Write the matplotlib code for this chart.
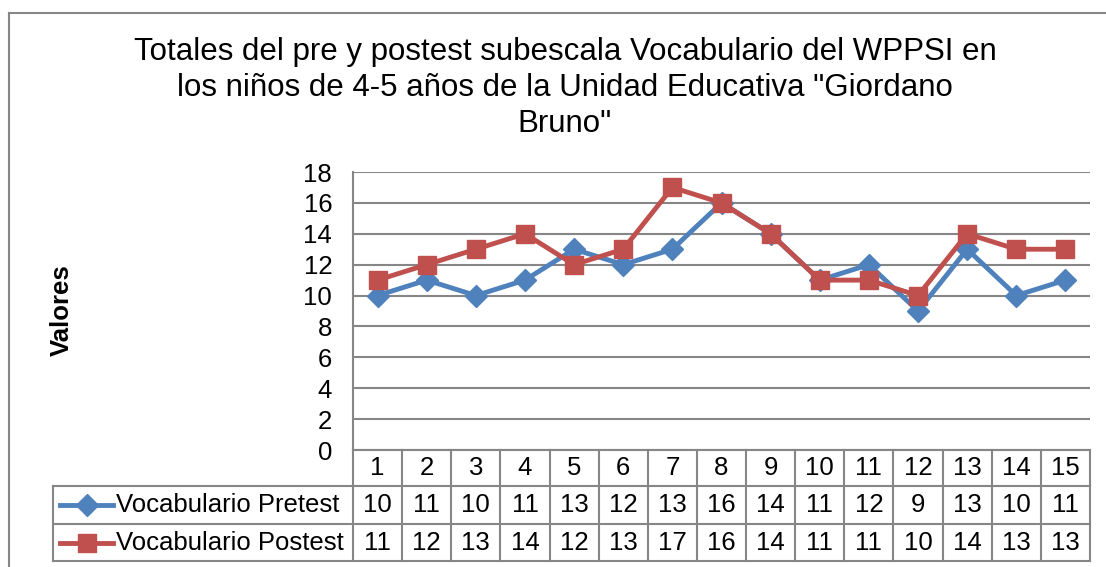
import numpy as np
import matplotlib
matplotlib.use('Agg')
import matplotlib.pyplot as plt
from matplotlib.transforms import blended_transform_factory
from matplotlib.lines import Line2D

plt.rcParams['font.family'] = ['Liberation Sans', 'DejaVu Sans']

categorias = [str(i) for i in range(1, 16)]
pretest = [10, 11, 10, 11, 13, 12, 13, 16, 14, 11, 12, 9, 13, 10, 11]
postest = [11, 12, 13, 14, 12, 13, 17, 16, 14, 11, 11, 10, 14, 13, 13]
series = ['Vocabulario Pretest', 'Vocabulario Postest']
colores = ['#4F81BD', '#C0504D']
marcadores = ['D', 's']
titulo = ('Totales del pre y postest subescala Vocabulario del WPPSI en\n'
          'los niños de 4-5 años de la Unidad Educativa "Giordano\nBruno"')

W, H = 1106, 567
fig = plt.figure(figsize=(W / 100, H / 100), dpi=100)
gris = '#868686'
fs = 18.5

def fy(py):
    return 1 - py / H

def fx(px):
    return px / W

# marco exterior
fig.add_artist(Line2D([fx(9), fx(9)], [fy(13), 0], color=gris, lw=1.5))
fig.add_artist(Line2D([fx(9), 1], [fy(13), fy(13)], color=gris, lw=1.5))

ax = fig.add_axes([fx(353), fy(450), fx(1090) - fx(353), fy(172) - fy(450)])
x = np.arange(len(categorias))
datos = [pretest, postest]
tam = [11, 13]
for vals, c, m, ms in zip(datos, colores, marcadores, tam):
    ax.plot(x, vals, color=c, lw=3.5, marker=m, markersize=ms, zorder=3)

ax.set_xlim(-0.5, len(categorias) - 0.5)
ax.set_ylim(0, 18)
ax.set_yticks(range(0, 19, 2))
ax.yaxis.grid(True, color=gris, lw=1.5)
ax.set_axisbelow(True)
ax.set_xticks([])
for s in ['top', 'right']:
    ax.spines[s].set_visible(False)
for s in ['left', 'bottom']:
    ax.spines[s].set_color(gris)
    ax.spines[s].set_linewidth(1.5)
ax.tick_params(axis='y', length=0, labelsize=fs, pad=15)

fig.text(fx(565), fy(88), titulo, ha='center', va='center', fontsize=22.5,
         linespacing=1.27)
fig.text(fx(62), fy(310), 'Valores', rotation=90, ha='center', va='center',
         fontsize=fs, fontweight='bold')

# tabla de datos
tr = blended_transform_factory(ax.transData, fig.transFigure)
filas = [450, 486, 524, 561]
kw = dict(color=gris, lw=1.5, clip_on=False)
for i in range(len(categorias) + 1):
    xi = i - 0.5
    ax.add_line(Line2D([xi, xi], [fy(450), fy(561)], transform=tr, **kw))
for py in filas[1:]:
    fig.add_artist(Line2D([fx(53), fx(1090)], [fy(py), fy(py)], **kw))
fig.add_artist(Line2D([fx(53), fx(53)], [fy(486), fy(561)], **kw))

for i, cat in enumerate(categorias):
    ax.text(i, fy(468), cat, transform=tr, ha='center', va='center', fontsize=fs)
for r, vals in enumerate(datos):
    yc = fy((filas[r + 1] + filas[r + 2]) / 2)
    for i, v in enumerate(vals):
        ax.text(i, yc, str(v), transform=tr, ha='center', va='center', fontsize=fs)
    fig.add_artist(Line2D([fx(60), fx(113)], [yc, yc], color=colores[r], lw=3.5))
    fig.add_artist(Line2D([fx(86.5)], [yc], color=colores[r], marker=marcadores[r],
                          markersize=tam[r], lw=0))
    fig.text(fx(116), yc, series[r], ha='left', va='center', fontsize=fs)

fig.savefig('out.png', dpi=100)
